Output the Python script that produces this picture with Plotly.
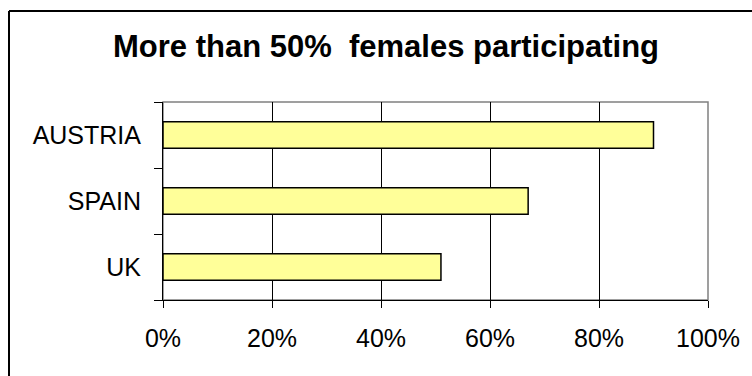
import plotly.graph_objects as go

countries = ["UK", "SPAIN", "AUSTRIA"]
shares = [0.51, 0.67, 0.90]
x_ticks = [0, 0.2, 0.4, 0.6, 0.8, 1.0]
x_tick_labels = ["0%", "20%", "40%", "60%", "80%", "100%"]
title_text = "More than 50%  females participating"

W, H = 752, 376
L, R, T, B = 163, 44, 102, 76
pw, ph = W - L - R, H - T - B

fig = go.Figure(
    go.Bar(
        x=shares,
        y=countries,
        orientation="h",
        width=0.4,
        marker=dict(color="#FFFF99", line=dict(color="black", width=1.5)),
    )
)

font_family = "Liberation Sans, Arial, sans-serif"

fig.update_layout(
    width=W,
    height=H,
    margin=dict(l=L, r=R, t=T, b=B, pad=0),
    paper_bgcolor="white",
    plot_bgcolor="white",
    showlegend=False,
    font=dict(family=font_family, size=25, color="black"),
    title=dict(
        text="<b>" + title_text + "</b>",
        font=dict(family=font_family, size=31, color="black"),
        x=386 / W,
        xanchor="center",
        xref="container",
        y=1 - 46 / H,
        yanchor="middle",
        yref="container",
    ),
    xaxis=dict(
        range=[0, 1.0],
        tickvals=x_ticks,
        ticktext=x_tick_labels,
        showgrid=True,
        gridcolor="black",
        gridwidth=1,
        showline=True,
        linecolor="black",
        linewidth=1,
        ticks="outside",
        ticklen=7,
        tickcolor="black",
        tickwidth=1,
        ticklabelstandoff=9,
        zeroline=False,
        fixedrange=True,
    ),
    yaxis=dict(
        type="category",
        categoryorder="array",
        categoryarray=countries,
        tickson="boundaries",
        ticks="outside",
        ticklen=8,
        tickcolor="black",
        tickwidth=1,
        showline=True,
        linecolor="black",
        linewidth=1,
        showgrid=False,
        ticklabelstandoff=16,
        fixedrange=True,
    ),
    shapes=[
        # plot area border (grey top/right)
        dict(type="rect", xref="paper", yref="paper", x0=0, x1=1, y0=0, y1=1,
             line=dict(color="#808080", width=1.5), layer="below"),
        # outer chart frame (left and top edges visible)
        dict(type="line", xref="paper", yref="paper",
             x0=(9 - L) / pw, x1=(9 - L) / pw,
             y0=(H - B - 11) / ph, y1=-1.0,
             line=dict(color="black", width=2)),
        dict(type="line", xref="paper", yref="paper",
             x0=(9 - L) / pw, x1=2.0,
             y0=(H - B - 11) / ph, y1=(H - B - 11) / ph,
             line=dict(color="black", width=2)),
    ],
)

fig.write_html("out.html")
